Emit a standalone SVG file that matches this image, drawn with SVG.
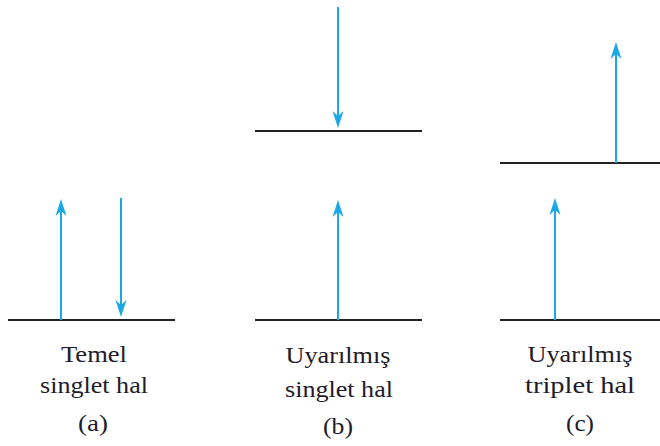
<svg xmlns="http://www.w3.org/2000/svg" width="660" height="446" viewBox="0 0 660 446">
  <style>
    .level { stroke: #222; stroke-width: 2; fill: none; }
    .spin { stroke: #1ba9e6; stroke-width: 2; fill: none; marker-end: url(#head); }
    .lbl { font-family: 'Liberation Serif', 'DejaVu Serif', serif; font-size: 24px; fill: #221c2a; text-anchor: middle; }
  </style>
  <defs>
    <marker id="head" viewBox="-10 -6 20 12" markerWidth="20" markerHeight="12" markerUnits="userSpaceOnUse" refX="0" refY="0" orient="auto">
      <path d="M8,0 L-9,-5.5 L-4,0 L-9,5.5 Z" fill="#1ba9e6"/>
    </marker>
  </defs>
  <rect width="660" height="446" fill="#fff"/>

  <g id="panel-a">
    <line class="level" x1="8" y1="320" x2="175" y2="320"/>
    <text class="lbl" x="94" y="362" textLength="66" lengthAdjust="spacingAndGlyphs">Temel</text>
    <text class="lbl" x="94" y="393" textLength="108" lengthAdjust="spacingAndGlyphs">singlet hal</text>
    <text class="lbl" x="93" y="431" textLength="30" lengthAdjust="spacingAndGlyphs">(a)</text>
  </g>

  <g id="panel-b">
    <line class="level" x1="255" y1="131" x2="422" y2="131"/>
    <line class="level" x1="255" y1="320" x2="422" y2="320"/>
    <text class="lbl" x="338" y="363" textLength="105" lengthAdjust="spacingAndGlyphs">Uyarılmış</text>
    <text class="lbl" x="339" y="397" textLength="108" lengthAdjust="spacingAndGlyphs">singlet hal</text>
    <text class="lbl" x="338" y="434" textLength="30" lengthAdjust="spacingAndGlyphs">(b)</text>
  </g>

  <g id="panel-c">
    <line class="level" x1="500" y1="163" x2="660" y2="163"/>
    <line class="level" x1="500" y1="320" x2="660" y2="320"/>
    <text class="lbl" x="580" y="362" textLength="105" lengthAdjust="spacingAndGlyphs">Uyarılmış</text>
    <text class="lbl" x="580" y="393" textLength="110" lengthAdjust="spacingAndGlyphs">triplet hal</text>
    <text class="lbl" x="580" y="431" textLength="28" lengthAdjust="spacingAndGlyphs">(c)</text>
  </g>

  <g id="connectors">
    <line class="spin" x1="61" y1="320" x2="61" y2="207"/>
    <line class="spin" x1="121" y1="198" x2="121" y2="309"/>
    <line class="spin" x1="338" y1="7" x2="338" y2="120"/>
    <line class="spin" x1="338" y1="320" x2="338" y2="208"/>
    <line class="spin" x1="555" y1="320" x2="555" y2="206"/>
    <line class="spin" x1="616" y1="163" x2="616" y2="50"/>
  </g>
</svg>
